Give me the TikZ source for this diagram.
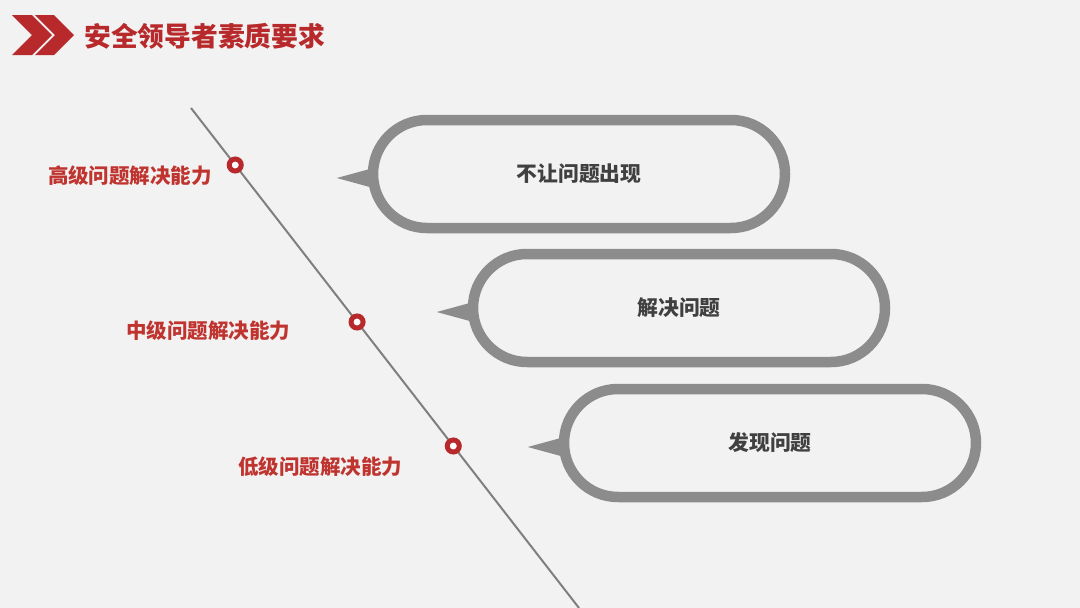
\documentclass[tikz,border=0pt]{standalone}
\usepackage{fontspec}
\newfontfamily\cjk{Noto Sans CJK SC}
\definecolor{bgc}{HTML}{F2F2F2}
\definecolor{redc}{HTML}{B8292B}
\definecolor{labred}{HTML}{C0342F}
\definecolor{bubgray}{HTML}{8C8C8C}
\definecolor{linegray}{HTML}{7F7F7F}
\definecolor{txtc}{HTML}{404040}
\tikzset{
  bubble/.style={draw=bubgray, line width=10.5pt, fill=bgc, rectangle, rounded corners=54pt,
    minimum width=412pt, minimum height=108pt, inner sep=0pt,
    font=\cjk\bfseries\fontsize{20.8}{21}\selectfont, text=txtc},
  ptr/.style={fill=bubgray},
  ring/.style={circle, draw=redc, line width=5pt, fill=white, minimum size=12pt, inner sep=0pt},
  lvl/.style={font=\cjk\bfseries\fontsize{20.5}{21}\selectfont, text=labred, inner sep=0pt},
}
\begin{document}
\begin{tikzpicture}[x=1pt,y=-1pt]
\fill[bgc] (0,0) rectangle (1080,608);
\useasboundingbox (0,0) rectangle (1080,608);
% title
\fill[redc] (12,15) -- (32,15) -- (52,35) -- (32,55) -- (12,55) -- (32,35) -- cycle;
\fill[redc] (35,15) -- (54,15) -- (74,35) -- (54,55) -- (35,55) -- (55,35) -- cycle;
\node[font=\cjk\bfseries\fontsize{26.8}{27}\selectfont, text=redc, anchor=west, inner sep=0pt] (title) at (84,36) {安全领导者素质要求};
% timeline
\coordinate (ls) at (191,108);
\coordinate (le) at (579,608);
\draw[linegray, line width=2pt] (ls) -- (le)
  node[ring, pos=0.114] (r1) {}
  node[ring, pos=0.428] (r2) {}
  node[ring, pos=0.676] (r3) {};
\node[lvl] (l1) at (130,176) {高级问题解决能力};
\node[lvl] (l2) at (208,331) {中级问题解决能力};
\node[lvl] (l3) at (320,467) {低级问题解决能力};
% bubbles
\node[bubble] (b1) at (579,174) {不让问题出现};
\node[bubble] (b2) at (679,308) {解决问题};
\node[bubble] (b3) at (770,443) {发现问题};
\foreach \b in {b1, b2, b3}{
  \fill[ptr] ([xshift=-31pt,yshift=-4pt]\b.west) -- ([xshift=2pt,yshift=5pt]\b.west) -- ([xshift=2pt,yshift=-13pt]\b.west) -- cycle;
}
\end{tikzpicture}
\end{document}
